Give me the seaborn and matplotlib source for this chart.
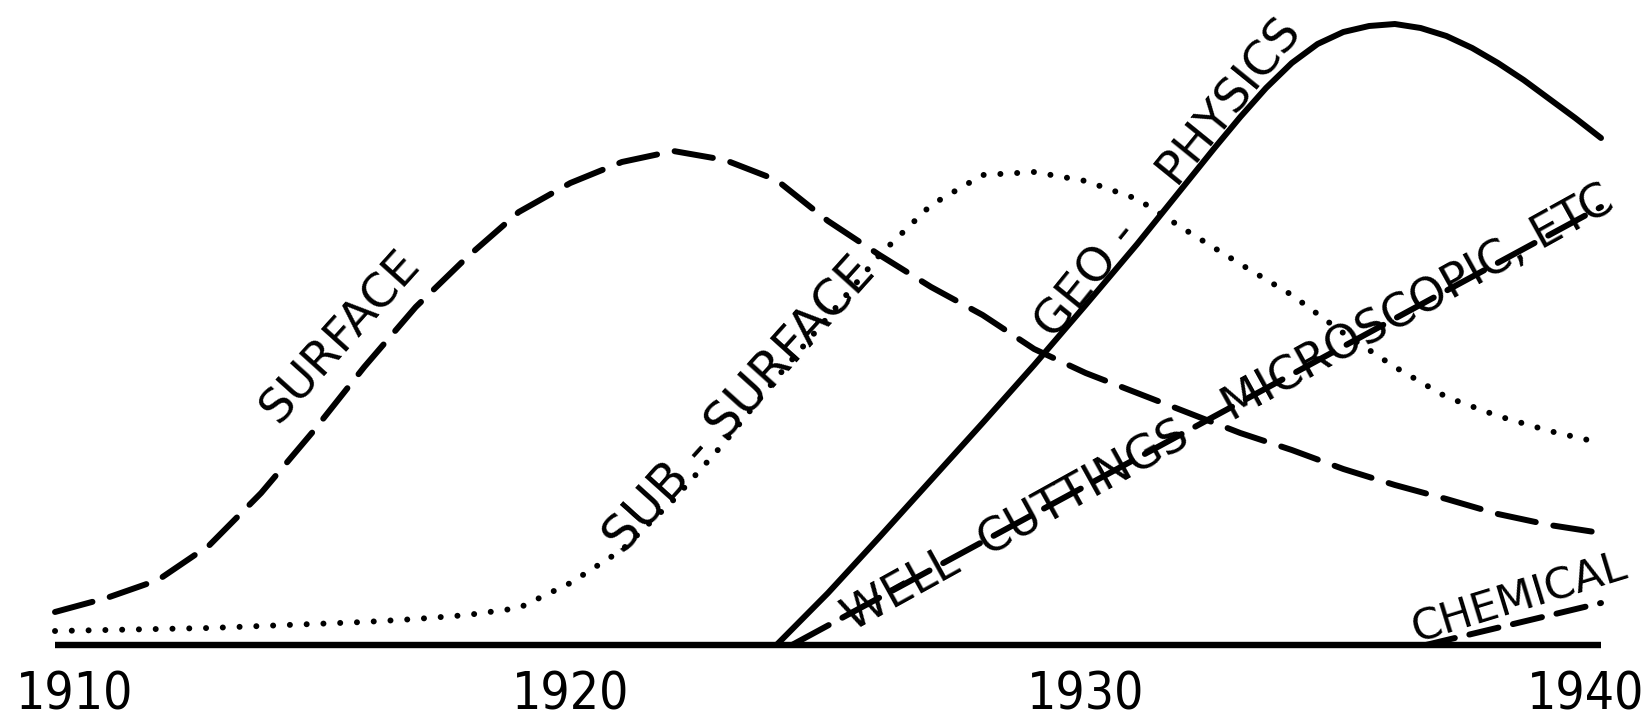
import matplotlib
matplotlib.use("Agg")
import matplotlib.pyplot as plt
import seaborn as sns

# --- data (height above the baseline, in chart units) ---
years = list(range(1910, 1941))

surface = [33, 47, 65, 100, 152, 213, 278, 338, 388, 433, 462, 483, 494, 485, 465,
           424, 390, 358, 330, 296, 272, 252, 232, 212, 195, 176, 160, 146, 131, 120, 112]

sub_surface = [14, 15, 16, 17, 19, 21, 23, 26, 30, 37, 62, 95, 145, 203, 267,
               328, 390, 440, 470, 473, 464, 446, 413, 381, 350, 312, 278, 248, 229, 214, 202]

geo_years = [1924, 1925, 1926, 1927, 1928, 1929, 1930, 1931, 1932, 1932.5, 1933, 1933.5,
             1934, 1934.5, 1935, 1935.5, 1936, 1936.5, 1937, 1937.5, 1938, 1938.5,
             1939, 1939.5, 1940]
geo_physics = [0, 52, 108, 165, 222, 280, 340, 401, 465, 497, 528, 557,
               582, 601, 613, 619, 621, 617, 609, 597, 582, 565,
               546, 527, 507]

well_years = [1924.3, 1940]
well_cuttings = [0, 438]

chem_years = [1936.6, 1940]
chemical = [0, 42]

tick_years = [1910, 1920, 1930, 1940]
tick_labels = ["1910", "1920", "1930", "1940"]

sns.set_style("white")
plt.rcParams["font.family"] = ["DejaVu Sans"]

fig = plt.figure(figsize=(16.45, 7.23), dpi=100)
ax = fig.add_axes([55 / 1645, 78 / 723, 1546 / 1645, 645 / 723])

lw = 4.3
common = dict(color="black", linewidth=lw, legend=False, ax=ax)

sns.lineplot(x=years, y=surface, **common)
ax.lines[-1].set_dashes([6.5, 3.0])
sns.lineplot(x=years, y=sub_surface, **common)
ax.lines[-1].set_dashes([0.01, 2.8])
sns.lineplot(x=geo_years, y=geo_physics, **common)
sns.lineplot(x=well_years, y=well_cuttings, **common)
ax.lines[-1].set_dashes([7, 2.6])
sns.lineplot(x=chem_years, y=chemical, **common)
ax.lines[-1].set_dashes([5, 2.5])

for ln in ax.lines:
    ln.set_dash_capstyle("round")
    ln.set_solid_capstyle("round")
    ln.set_clip_on(False)

# thick baseline
ax.plot([1910, 1940], [0, 0], color="black", linewidth=4.6, clip_on=False,
        solid_capstyle="butt")

# curve labels (hand lettering along the curves)
lab = dict(color="black", ha="center", va="center", rotation_mode="anchor")
ax.text(1915.55, 308, "SURFACE", rotation=48, fontsize=34, **lab)
ax.text(1923.3, 240, "SUB - SURFACE", rotation=48, fontsize=36, **lab)
ax.text(1931.62, 466, "GEO -    PHYSICS", rotation=51, fontsize=34, **lab)
ax.text(1932.78, 236, "WELL  CUTTINGS - MICROSCOPIC, ETC", rotation=29, fontsize=33, **lab)
ax.text(1938.41, 47, "CHEMICAL", rotation=17, fontsize=31, **lab)

# year labels under the baseline
for yr, txt in zip(tick_years, tick_labels):
    ha = "center"
    x = yr
    if yr == tick_years[0]:
        ha, x = "left", yr - 0.75
    elif yr == tick_years[-1]:
        ha, x = "right", yr + 0.85
    ax.text(x, -50, txt, fontsize=37, fontstretch="condensed", color="black",
            ha=ha, va="center", clip_on=False)

ax.set_xlim(1910, 1940)
ax.set_ylim(0, 645)
ax.set_xticks([])
ax.set_yticks([])
for s in ax.spines.values():
    s.set_visible(False)

fig.savefig("out.png", dpi=100)
